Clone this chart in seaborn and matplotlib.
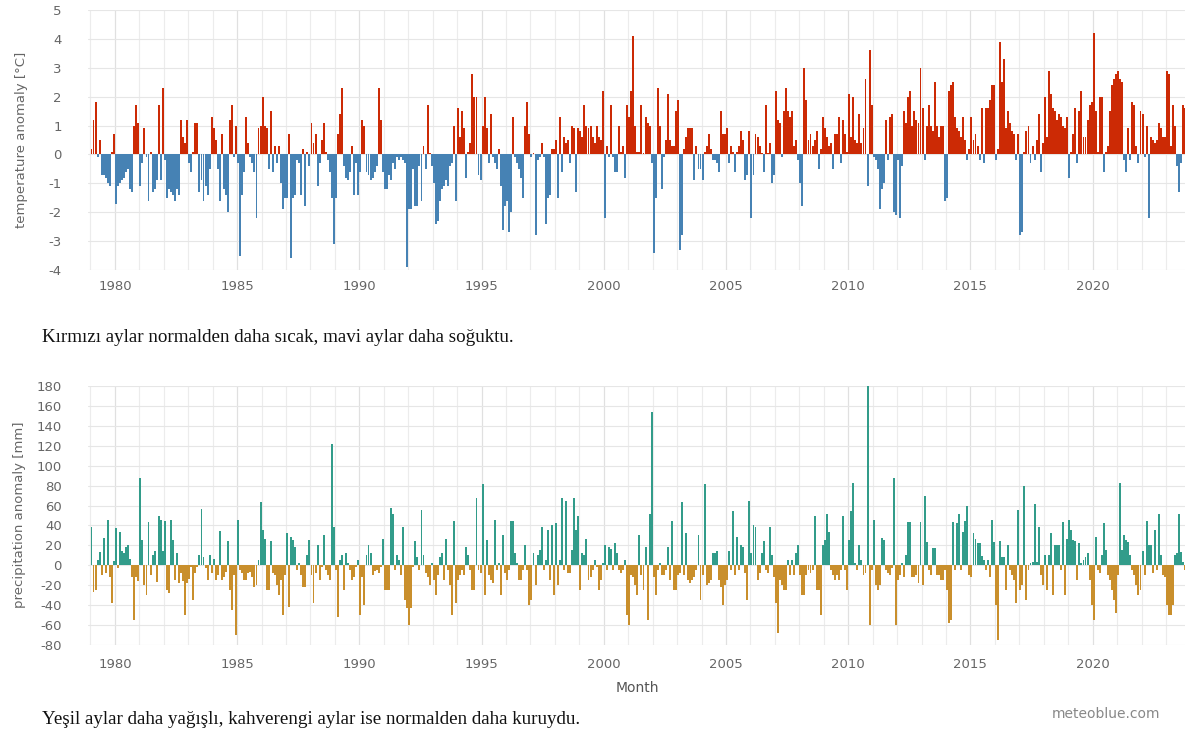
import numpy as np
import pandas as pd
import seaborn as sns
import matplotlib.pyplot as plt
from matplotlib.ticker import FixedLocator, MultipleLocator

# monthly series start in January 1979
start_year = 1979
year_ticks = list(range(1980, 2025, 5))
temp_ticks = list(range(-4, 6))
precip_ticks = list(range(-80, 200, 20))

# temperature anomaly [°C], one row per year (2023 ends in October)
temp_anomaly = [
    0.2, 1.2, 1.8, -0.1, 0.5, -0.7, -0.7, -0.8, -1.0, -1.1, 0.1, 0.7,      # 1979
    -1.7, -1.1, -1.0, -0.9, -0.8, -0.6, -0.5, -1.2, -1.3, 1.0, 1.7, 1.1,   # 1980
    -1.1, -0.3, 0.9, -0.1, -1.6, 0.1, -1.3, -1.2, -0.9, 1.7, -0.9, 2.3,    # 1981
    -0.2, -1.5, -1.2, -1.3, -1.4, -1.6, -1.2, -1.4, 1.2, 0.6, 0.4, 1.2,    # 1982
    -0.3, -0.6, 0.1, 1.1, 1.1, -1.3, -0.9, -1.6, -1.1, -1.4, -0.5, 1.3,    # 1983
    0.9, 0.5, -0.5, -1.6, 0.7, -1.2, -1.4, -2.0, 1.2, 1.7, -0.1, 1.0,      # 1984
    -0.3, -3.5, -1.4, -0.6, 1.3, 0.4, -0.1, -0.3, -0.6, -2.2, 0.9, 1.0,    # 1985
    2.0, 1.0, 0.9, -0.5, 1.5, -0.6, 0.3, -0.3, 0.3, -1.0, -1.9, -1.5,      # 1986
    -1.5, 0.7, -3.6, -1.5, -1.4, -0.2, -0.3, -1.4, 0.2, -1.8, 0.1, -0.4,   # 1987
    1.1, 0.4, 0.7, -1.1, -0.3, 0.5, 1.1, 0.1, -0.2, -0.6, -1.5, -3.1,      # 1988
    -1.5, 0.7, 1.4, 2.3, -0.4, -0.8, -0.9, -0.6, 0.3, -1.4, -0.3, -1.4,    # 1989
    -0.6, 1.2, 1.0, -0.6, -0.7, -0.9, -0.8, -0.6, -0.4, 2.3, 1.2, -0.6,    # 1990
    -1.2, -1.2, -0.7, -0.9, -0.3, -0.5, -0.1, -0.2, -0.1, -0.2, -0.3, -3.9,  # 1991
    -1.9, -1.9, -0.5, -1.8, -1.8, -0.4, -1.6, 0.3, -0.5, 1.7, 0.05, -0.4,  # 1992
    -1.0, -2.4, -2.3, -1.6, -1.2, -1.1, -0.9, -1.1, -0.4, -0.3, 1.0, -1.6,  # 1993
    1.6, 0.6, 1.5, 0.9, -0.8, 0.1, 0.4, 2.8, 2.0, 2.0, -0.7, -0.9,         # 1994
    1.0, 2.0, 0.9, -0.3, 1.4, -0.1, -0.3, -0.5, 0.2, -1.1, -2.6, -1.8,     # 1995
    -1.6, -2.7, -2.0, 1.3, -0.1, -0.3, -0.5, -0.8, -1.5, 1.0, 1.8, 0.7,    # 1996
    -0.1, 0.05, -2.8, -0.2, -0.1, 0.4, -0.1, -2.4, -1.5, -1.4, 0.2, 0.2,   # 1997
    0.5, -1.5, 1.3, -0.6, 0.6, 0.4, 0.5, -0.3, 1.0, 0.9, -1.3, 0.9,        # 1998
    0.8, 0.6, 1.7, 1.0, 0.9, 1.0, 0.6, 0.4, 1.0, 0.6, 0.5, 2.2,            # 1999
    -2.2, 0.3, -0.1, 1.7, -0.1, -0.6, -0.6, 1.0, 0.1, 0.3, -0.8, 1.7,      # 2000
    1.3, 2.2, 4.1, 1.0, 0.1, 0.1, 1.7, 0.05, 1.3, 1.1, 1.0, -0.3,          # 2001
    -3.4, -1.5, 2.3, 1.0, -1.2, -0.1, 0.5, 2.1, 0.5, 0.3, 0.3, 1.5,        # 2002
    1.9, -3.3, -2.8, 0.2, 0.6, 0.9, 0.9, 0.9, -0.9, 0.3, -0.5, -0.5,       # 2003
    -0.9, 0.1, 0.3, 0.7, 0.2, -0.2, -0.2, -0.3, -0.6, 1.5, 0.7, 0.7,       # 2004
    0.9, -0.3, 0.3, 0.1, -0.6, 0.1, 0.3, 0.8, 0.5, -0.9, -0.7, 0.8,        # 2005
    -2.2, -0.7, 0.7, 0.6, 0.3, 0.05, -0.6, 1.7, 0.05, 0.4, -1.0, -0.7,     # 2006
    2.2, 1.2, 1.1, -0.1, 1.5, 2.3, 1.5, 1.3, 1.5, 0.3, 0.5, -0.2,          # 2007
    -1.0, -1.8, 3.0, 1.9, 0.5, 0.7, 0.3, 0.5, 0.8, -0.5, 0.2, 1.3,         # 2008
    0.9, 0.6, 0.3, 0.4, -0.5, 0.7, 0.7, 1.3, -0.3, 1.2, 0.7, 0.1,          # 2009
    2.1, 0.6, 2.0, 0.5, 0.4, 1.4, 0.4, 0.9, 2.6, -1.1, 3.6, 1.7,           # 2010
    -0.1, -0.2, -0.5, -1.9, -1.2, -1.0, 1.2, -0.2, 1.3, 1.4, -2.0, -2.1,   # 2011
    -0.2, -2.2, -0.4, 1.5, 1.1, 2.0, 2.2, 1.0, 1.5, 1.2, 1.1, 3.0,         # 2012
    1.6, -0.2, 1.0, 1.7, 1.0, 0.8, 2.5, 1.0, 0.6, 1.0, 1.0, -1.6,          # 2013
    -1.5, 2.2, 2.4, 2.5, 1.3, 0.9, 0.8, 0.6, 1.3, 0.5, -0.2, 0.2,          # 2014
    1.3, 0.5, 0.7, 0.3, -0.2, 1.6, -0.3, 1.6, 1.6, 1.9, 2.4, 2.4,          # 2015
    -0.2, 0.2, 3.9, 2.5, 3.3, 0.9, 1.5, 1.1, 0.8, 0.7, -0.2, 0.7,          # 2016
    -2.8, -2.7, 0.1, 0.8, 1.0, -0.3, 0.3, -0.2, 0.5, 1.4, -0.6, 0.4,       # 2017
    2.0, 0.6, 2.9, 2.1, 1.6, 1.5, 1.2, 1.4, 1.3, 1.0, 0.9, 1.3,            # 2018
    -0.8, 0.1, 0.7, 1.6, -0.3, 1.5, 2.2, 0.6, 0.6, 1.2, 1.7, 1.8,          # 2019
    4.2, 1.5, 0.1, 2.0, 2.0, -0.6, 0.1, 0.3, 1.5, 2.4, 2.6, 2.8,           # 2020
    2.9, 2.6, 2.5, -0.2, -0.6, 0.9, -0.2, 1.8, 1.7, 0.3, -0.3, 1.5,        # 2021
    1.4, -0.1, 1.0, -2.2, 0.6, 0.5, 0.4, 0.5, 1.1, 0.9, 0.6, 0.6,          # 2022
    2.9, 2.8, 0.3, 1.7, 1.0, -0.4, -1.3, -0.3, 1.7, 1.6,                   # 2023
]

# precipitation anomaly [mm]
precip_anomaly = [
    38, -27, -25, 5, 13, -10, 27, -8, 46, -12, -38, 4,        # 1979
    37, -3, 33, 14, 12, 18, 20, 6, -12, -55, -12, -16,        # 1980
    88, 25, -20, -30, 44, -10, 10, 14, -17, 50, 46, 14,       # 1981
    45, -25, -28, 46, 25, -15, 12, -18, -8, -16, -50, -18,    # 1982
    -14, -2, -35, -8, -2, 10, 57, 8, -3, -15, 10, -8,         # 1983
    6, -15, -10, 34, -15, -12, -7, 24, -25, -45, -10, -70,    # 1984
    46, -5, -8, -15, -15, -8, -7, -12, -22, -20, 5, 64,       # 1985
    35, 26, -25, -25, 24, -8, -10, -20, -30, -15, -50, -10,   # 1986
    32, -42, 28, 25, 18, -5, 2, -10, -22, -22, 10, 25,        # 1987
    -10, -38, -8, 20, -15, -2, 30, -5, -10, -15, 122, 38,     # 1988
    -5, -52, 5, 10, -25, 12, 2, -5, -15, -12, -2, 5,          # 1989
    -50, -12, -40, 10, 20, 12, -10, -6, -5, -8, -2, 26,       # 1990
    -25, -25, -25, 58, 52, -5, 10, 5, -10, 38, -35, -43,      # 1991
    -60, -43, -2, 24, 8, -5, 56, 10, -8, -12, -20, 2,         # 1992
    -15, -30, -10, 8, 12, -15, 26, -5, -20, -50, 45, -38,     # 1993
    -15, -10, -5, -10, 18, 10, -5, -25, -25, 68, -5, -8,      # 1994
    82, -30, 25, -10, -15, -18, 46, -5, 2, -30, 30, -8,       # 1995
    -15, -5, 45, 45, 12, 2, -15, -15, -5, 20, -5, -40,        # 1996
    -35, 12, -20, 10, 15, 38, -5, 5, 35, -15, 40, -30,        # 1997
    43, -20, 5, 68, -5, 65, -8, -8, 15, 68, 35, 50,           # 1998
    -25, 12, 10, 26, -15, -12, -5, 5, -2, -25, -15, 2,        # 1999
    20, -5, 18, 16, -5, 22, 12, -5, -8, -5, 5, -50,           # 2000
    -60, -10, -12, -20, -30, 30, -10, -25, 18, -55, 52, 154,  # 2001
    -12, -30, -5, 2, -10, -10, -5, 18, -15, 45, -25, -25,     # 2002
    -10, -8, 64, -10, 32, -15, -18, -15, -12, -5, 30, -35,    # 2003
    -10, 82, -20, -18, -15, 12, 12, 14, -15, -22, -40, -20,   # 2004
    -15, 14, -5, 55, -10, 28, -5, 20, 18, -8, -35, 65,        # 2005
    12, 40, 38, -15, -8, 12, 24, -5, -8, 38, 10, -12,         # 2006
    -38, -68, -15, -20, -25, -25, 5, -10, 5, -10, 12, 20,     # 2007
    -10, -30, -30, -10, -5, -8, -5, 50, -25, -25, -50, 20,    # 2008
    25, 52, 33, -5, -10, -15, -10, -15, -5, 50, -5, -25,      # 2009
    25, 55, 83, 2, -5, 20, 5, -10, -8, 180, -60, -5,          # 2010
    46, -20, -25, -20, 27, 25, -5, -8, -10, -3, 88, -60,      # 2011
    -15, -10, 2, -12, 10, 44, 44, -12, -12, -10, -18, 44,     # 2012
    -20, 70, 23, -5, -10, 17, 17, -10, -10, -15, -15, -5,     # 2013
    -25, -58, -55, 44, -5, 42, 52, -5, 33, 45, 60, -10,       # 2014
    -12, 32, 26, 22, 22, 9, 5, -5, 5, -12, 46, 23,            # 2015
    -40, -75, 24, 8, 8, -25, 20, -5, -10, -15, -38, 56,       # 2016
    -25, -20, 80, -35, -5, 2, 3, 62, 3, 38, -10, -20,         # 2017
    10, -25, 10, 32, -30, 20, 20, 20, -5, 44, -30, 26,        # 2018
    46, 35, 25, 24, -15, 22, 2, 5, 8, 12, -15, -40,           # 2019
    -55, 28, -5, -8, 10, 43, 15, -10, -15, -25, -35, -48,     # 2020
    -10, 83, 15, 30, 25, 23, 10, -5, -10, -20, -30, -25,      # 2021
    14, -10, 45, 20, 20, -8, 35, -5, 52, 10, -10, -12,        # 2022
    -40, -50, -50, -40, 10, 12, 52, 13, 3, -5,                # 2023
]


def monthly_frame(values):
    t = start_year + (np.arange(len(values)) + 0.5) / 12
    df = pd.DataFrame({"t": t, "value": values})
    df["sign"] = np.where(df["value"] >= 0, "pos", "neg")
    return df


temp_df = monthly_frame(temp_anomaly)
precip_df = monthly_frame(precip_anomaly)

sns.set_style("white")
plt.rcParams["font.family"] = ["DejaVu Sans"]

fig = plt.figure(figsize=(11.88, 7.35), dpi=100)
ax1 = fig.add_axes([0.0741, 0.6327, 0.9234, 0.3537])
ax2 = fig.add_axes([0.0741, 0.1224, 0.9234, 0.3524])

sns.barplot(data=temp_df, x="t", y="value", hue="sign",
            palette={"pos": "#cc2a05", "neg": "#4682b4"}, saturation=1,
            native_scale=True, dodge=False, errorbar=None, width=0.95,
            linewidth=0, legend=False, ax=ax1)
sns.barplot(data=precip_df, x="t", y="value", hue="sign",
            palette={"pos": "#329c8a", "neg": "#c98f2c"}, saturation=1,
            native_scale=True, dodge=False, errorbar=None, width=0.95,
            linewidth=0, legend=False, ax=ax2)

for ax, yt in ((ax1, temp_ticks), (ax2, precip_ticks)):
    ax.set_xlim(1978.9, 2023.78)
    ax.set_ylim(yt[0], yt[-1])
    ax.xaxis.set_major_locator(FixedLocator(year_ticks))
    ax.xaxis.set_minor_locator(MultipleLocator(1))
    ax.set_xticklabels([str(y) for y in year_ticks])
    ax.yaxis.set_major_locator(FixedLocator(yt))
    ax.set_yticklabels([str(v) for v in yt])
    ax.grid(which="major", axis="x", color="#e0e0e0", lw=0.9)
    ax.grid(which="minor", axis="x", color="#ececec", lw=0.8)
    ax.grid(which="major", axis="y", color="#e6e6e6", lw=0.8)
    ax.set_axisbelow(True)
    for s in ax.spines.values():
        s.set_visible(False)
    ax.tick_params(which="both", length=0, labelsize=9.5, labelcolor="#666666")
    ax.tick_params(axis="y", pad=19)
    ax.set_xlabel("")
    ax.set_ylabel("")

ax1.tick_params(axis="x", pad=7)
ax2.tick_params(axis="x", pad=9)

fig.text(22 / 1188, 1 - 140 / 735, "temperature anomaly [°C]", rotation=90,
         ha="center", va="center", fontsize=9.5, color="#666666")
fig.text(20 / 1188, 1 - 515 / 735, "precipitation anomaly [mm]", rotation=90,
         ha="center", va="center", fontsize=9.5, color="#666666")
fig.text(637 / 1188, 1 - 688 / 735, "Month", ha="center", va="center",
         fontsize=10, color="#555555")

fig.text(42 / 1188, 1 - 338 / 735,
         "Kırmızı aylar normalden daha sıcak, mavi aylar daha soğuktu.",
         family="Liberation Serif", fontsize=13.7, va="center", color="#111111")
fig.text(42 / 1188, 1 - 720 / 735,
         "Yeşil aylar daha yağışlı, kahverengi aylar ise normalden daha kuruydu.",
         family="Liberation Serif", fontsize=13.7, va="center", color="#111111")
fig.text(1160 / 1188, 1 - 714 / 735, "meteoblue.com", ha="right", va="center",
         fontsize=10, color="#888888")

fig.savefig("out.png", dpi=100)
